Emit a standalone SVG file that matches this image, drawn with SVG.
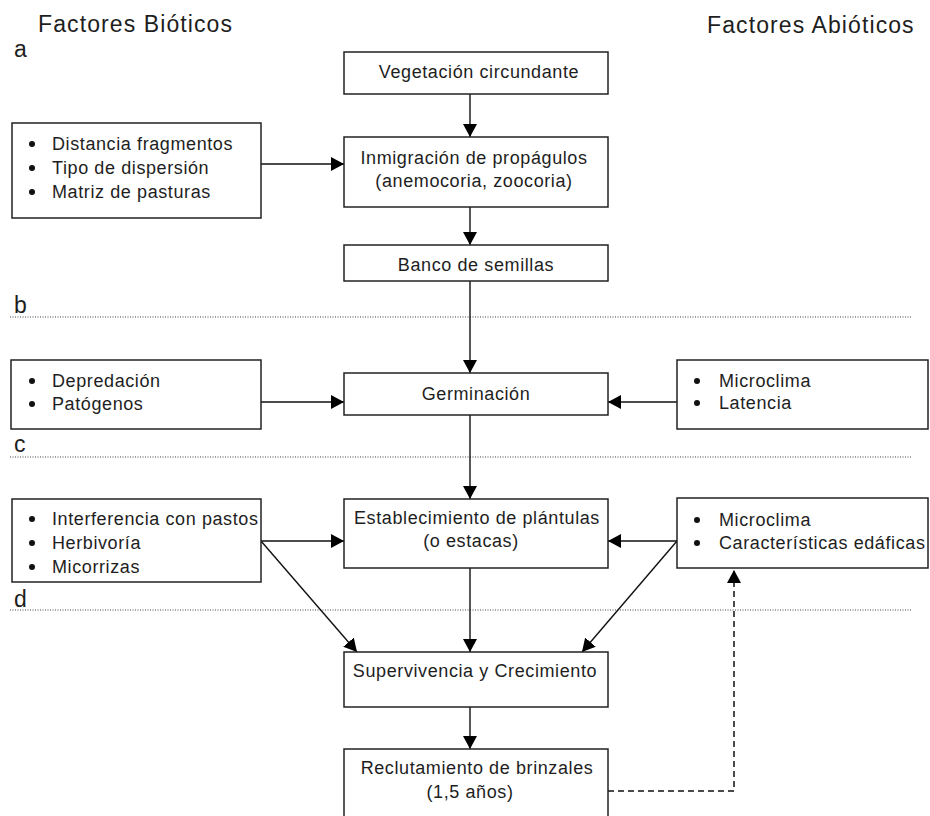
<svg xmlns="http://www.w3.org/2000/svg" width="930" height="816" viewBox="0 0 930 816">
<style>
text{font-family:"Liberation Sans",Arial,sans-serif;fill:#1e1e1e}
.t{font-size:18px;letter-spacing:0.6px}
.h{font-size:23px;letter-spacing:1.1px}
.c{text-anchor:middle}
.box{fill:#fff;stroke:#222;stroke-width:1.5}
.ln{fill:none;stroke:#111;stroke-width:1.4}
.dash{fill:none;stroke:#111;stroke-width:1.5;stroke-dasharray:6 4}
.dot{fill:none;stroke:#444;stroke-width:1;stroke-dasharray:1 1.5}
.bul{fill:#111}
</style>
<defs>
<marker id="ah" markerUnits="userSpaceOnUse" markerWidth="14" markerHeight="14" refX="13" refY="7" orient="auto">
<path d="M0,0 L13,7 L0,14 z" fill="#000"/>
</marker>
</defs>
<rect width="930" height="816" fill="#fff"/>

<g id="headers">
<text class="h" x="38" y="32">Factores Bióticos</text>
<text class="h" x="707" y="33">Factores Abióticos</text>
<text class="h" x="14" y="57">a</text>
<text class="h" x="14" y="313">b</text>
<text class="h" x="14" y="452">c</text>
<text class="h" x="14" y="607">d</text>
</g>

<g id="separators">
<line class="dot" x1="10" y1="317" x2="912" y2="317"/>
<line class="dot" x1="10" y1="457" x2="912" y2="457"/>
<line class="dot" x1="10" y1="610" x2="912" y2="610"/>
</g>

<g id="connectors">
<line class="ln" x1="470" y1="94" x2="470" y2="137" marker-end="url(#ah)"/>
<line class="ln" x1="261" y1="164" x2="344" y2="164" marker-end="url(#ah)"/>
<line class="ln" x1="470" y1="207" x2="470" y2="245" marker-end="url(#ah)"/>
<line class="ln" x1="470" y1="281" x2="470" y2="373" marker-end="url(#ah)"/>
<line class="ln" x1="261" y1="402" x2="344" y2="402" marker-end="url(#ah)"/>
<line class="ln" x1="677" y1="402" x2="608" y2="402" marker-end="url(#ah)"/>
<line class="ln" x1="470" y1="415" x2="470" y2="499" marker-end="url(#ah)"/>
<line class="ln" x1="261" y1="541" x2="344" y2="541" marker-end="url(#ah)"/>
<line class="ln" x1="677" y1="541" x2="608" y2="541" marker-end="url(#ah)"/>
<line class="ln" x1="261" y1="541" x2="357" y2="652" marker-end="url(#ah)"/>
<line class="ln" x1="677" y1="541" x2="582" y2="652" marker-end="url(#ah)"/>
<line class="ln" x1="470" y1="568" x2="470" y2="652" marker-end="url(#ah)"/>
<line class="ln" x1="470" y1="707" x2="470" y2="749" marker-end="url(#ah)"/>
<path class="dash" d="M608,791 H734 V570" marker-end="url(#ah)"/>
</g>

<g id="vegetacion">
<rect class="box" x="344" y="52" width="264" height="42"/>
<text class="t c" x="479" y="78">Vegetación circundante</text>
</g>

<g id="inmigracion">
<rect class="box" x="344" y="137" width="264" height="70"/>
<text class="t c" x="474" y="164">Inmigración de propágulos</text>
<text class="t c" x="474" y="187">(anemocoria, zoocoria)</text>
</g>

<g id="banco">
<rect class="box" x="344" y="245" width="264" height="36"/>
<text class="t c" x="476" y="271">Banco de semillas</text>
</g>

<g id="germinacion">
<rect class="box" x="344" y="373" width="264" height="42"/>
<text class="t c" x="476" y="400">Germinación</text>
</g>

<g id="establecimiento">
<rect class="box" x="344" y="499" width="264" height="69"/>
<text class="t c" x="477" y="524">Establecimiento de plántulas</text>
<text class="t c" x="471" y="547">(o estacas)</text>
</g>

<g id="supervivencia">
<rect class="box" x="344" y="652" width="264" height="55"/>
<text class="t c" x="475" y="677">Supervivencia y Crecimiento</text>
</g>

<g id="reclutamiento">
<rect class="box" x="344" y="749" width="264" height="80"/>
<text class="t c" x="477" y="774">Reclutamiento de brinzales</text>
<text class="t c" x="470" y="798">(1,5 años)</text>
</g>

<g id="dispersion-factors">
<rect class="box" x="12" y="123" width="249" height="95"/>
<circle class="bul" cx="32" cy="144" r="3"/>
<circle class="bul" cx="32" cy="168" r="3"/>
<circle class="bul" cx="32" cy="192" r="3"/>
<text class="t" x="52" y="150">Distancia fragmentos</text>
<text class="t" x="52" y="174">Tipo de dispersión</text>
<text class="t" x="52" y="198">Matriz de pasturas</text>
</g>

<g id="germ-biotic">
<rect class="box" x="11" y="360" width="250" height="69"/>
<circle class="bul" cx="32" cy="381" r="3"/>
<circle class="bul" cx="32" cy="404" r="3"/>
<text class="t" x="52" y="387">Depredación</text>
<text class="t" x="52" y="410">Patógenos</text>
</g>

<g id="germ-abiotic">
<rect class="box" x="677" y="360" width="251" height="69"/>
<circle class="bul" cx="697" cy="381" r="3"/>
<circle class="bul" cx="697" cy="403" r="3"/>
<text class="t" x="719" y="387">Microclima</text>
<text class="t" x="719" y="409">Latencia</text>
</g>

<g id="estab-biotic">
<rect class="box" x="12" y="499" width="249" height="83"/>
<circle class="bul" cx="32" cy="519" r="3"/>
<circle class="bul" cx="32" cy="543" r="3"/>
<circle class="bul" cx="32" cy="567" r="3"/>
<text class="t" x="52" y="525">Interferencia con pastos</text>
<text class="t" x="52" y="549">Herbivoría</text>
<text class="t" x="52" y="573">Micorrizas</text>
</g>

<g id="estab-abiotic">
<rect class="box" x="677" y="498" width="251" height="70"/>
<circle class="bul" cx="697" cy="520" r="3"/>
<circle class="bul" cx="697" cy="543" r="3"/>
<text class="t" x="719" y="526">Microclima</text>
<text class="t" x="719" y="549">Características edáficas</text>
</g>
</svg>
